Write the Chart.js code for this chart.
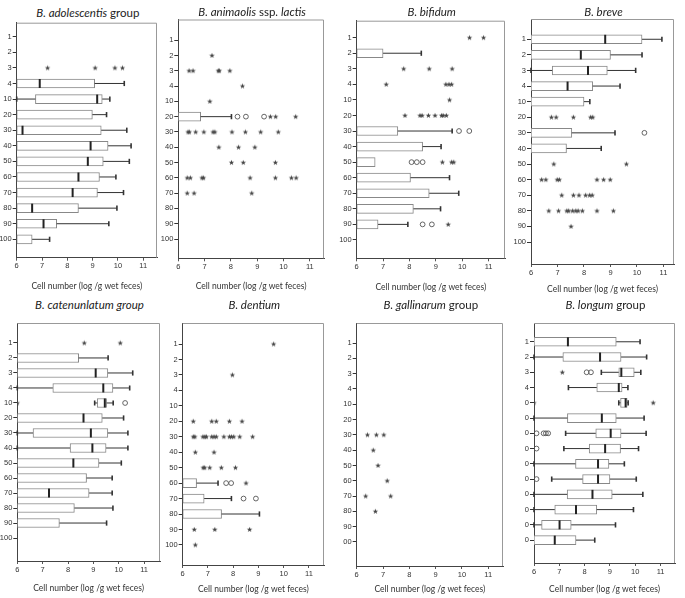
<!DOCTYPE html>
<html>
<head>
<meta charset="utf-8">
<script src="https://cdn.jsdelivr.net/npm/chart.js@4.4.1/dist/chart.umd.min.js"></script>
<style>
body { margin: 0; width: 685px; height: 598px; background: #fff; position: relative; overflow: hidden; font-family: Lato, sans-serif; }
canvas { position: absolute; }
.ttl { position: absolute; text-align: center; font-size: 11.5px; line-height: 14px; color: #222; white-space: nowrap; }
</style>
</head>
<body>
<script>
'use strict'

const ageLabels = ['1', '2', '3', '4', '10', '20', '30', '40', '50', '60', '70', '80', '90', '100'];
const xTickValues = [6, 7, 8, 9, 10, 11];
const axisTitle = 'Cell number (log /g wet feces)';

// box rows: [age, lower whisker, q1, median, q3, upper whisker]; median null = not visible
const adolescentisBoxes = [
    ['4', 6, 6, 6.91, 9.08, 10.25],
    ['10', 6, 6.74, 9.18, 9.38, 9.68],
    ['20', 6, 6, null, 8.99, 9.55],
    ['30', 6, 6, 6.23, 9.34, 10.35],
    ['40', 6, 6, 8.92, 9.61, 10.52],
    ['50', 6, 6, 8.81, 9.42, 10.45],
    ['60', 6, 6, 8.44, 9.27, 9.92],
    ['70', 6, 6, 8.21, 9.19, 10.22],
    ['80', 6, 6, 6.61, 8.44, 9.96],
    ['90', 6, 6, 7.06, 7.58, 9.64],
    ['100', 6, 6, null, 6.61, 7.3]
];
const adolescentisStars = [['3', 7.22], ['3', 9.1], ['3', 9.88], ['3', 10.18]];
const adolescentisCircles = [];

const lactisBoxes = [['20', 6, 6, null, 6.85, 8.02]];
const lactisStars = [
    ['2', 7.28],
    ['3', 6.41], ['3', 6.56], ['3', 7.52], ['3', 7.56], ['3', 7.96],
    ['4', 8.44],
    ['10', 7.2],
    ['20', 9.5], ['20', 9.7], ['20', 10.46],
    ['30', 6.37], ['30', 6.42], ['30', 6.66], ['30', 6.97], ['30', 7.32], ['30', 7.39], ['30', 8.04], ['30', 8.55], ['30', 9.13], ['30', 9.8],
    ['40', 7.54], ['40', 8.29], ['40', 8.91],
    ['50', 8.02], ['50', 8.47], ['50', 9.69],
    ['60', 6.34], ['60', 6.46], ['60', 6.9], ['60', 6.96], ['60', 8.73], ['60', 9.69], ['60', 10.3], ['60', 10.48],
    ['70', 6.34], ['70', 6.6], ['70', 8.79]
];
const lactisCircles = [['20', 8.25], ['20', 8.57], ['20', 9.26]];

const bifidumBoxes = [
    ['2', 6, 6, null, 7.0, 8.45],
    ['30', 6, 6, null, 7.56, 9.62],
    ['40', 6, 6, null, 8.5, 9.2],
    ['50', 6, 6, null, 6.7, 6.7],
    ['60', 6, 6, null, 8.04, 9.52],
    ['70', 6, 6, null, 8.75, 9.87],
    ['80', 6, 6, null, 8.15, 9.18],
    ['90', 6, 6, null, 6.81, 7.94]
];
const bifidumStars = [
    ['1', 10.28], ['1', 10.81],
    ['3', 7.78], ['3', 8.75], ['3', 9.62],
    ['4', 7.12], ['4', 9.38], ['4', 9.5], ['4', 9.6],
    ['10', 9.52],
    ['20', 7.83], ['20', 8.4], ['20', 8.48], ['20', 8.72], ['20', 8.97], ['20', 9.22], ['20', 9.28], ['20', 9.4],
    ['50', 9.25], ['50', 9.6], ['50', 9.68],
    ['90', 9.47]
];
const bifidumCircles = [['30', 9.88], ['30', 10.27], ['50', 8.08], ['50', 8.28], ['50', 8.5], ['90', 8.5], ['90', 8.85]];

const breveBoxes = [
    ['1', 6, 6, 8.8, 10.19, 10.94],
    ['2', 6, 6, 7.88, 9.0, 10.19],
    ['3', 6, 6.8, 8.15, 8.88, 9.95],
    ['4', 6, 6, 7.38, 8.33, 9.36],
    ['10', 6, 6, null, 8.0, 8.22],
    ['30', 6, 6, null, 7.54, 9.17],
    ['40', 6, 6, null, 7.34, 8.65]
];
const breveStars = [
    ['20', 6.77], ['20', 6.95], ['20', 7.6], ['20', 8.25], ['20', 8.33],
    ['50', 6.86], ['50', 9.6],
    ['60', 6.4], ['60', 6.56], ['60', 6.99], ['60', 7.07], ['60', 8.49], ['60', 8.74], ['60', 8.99],
    ['70', 7.16], ['70', 7.6], ['70', 7.81], ['70', 8.06], ['70', 8.21], ['70', 8.31],
    ['80', 6.67], ['80', 7.04], ['80', 7.35], ['80', 7.42], ['80', 7.57], ['80', 7.69], ['80', 7.78], ['80', 7.94], ['80', 8.49], ['80', 9.11],
    ['90', 7.51]
];
const breveCircles = [['30', 10.28]];

const catenulatumBoxes = [
    ['2', 6, 6, null, 8.42, 9.58],
    ['3', 6, 6, 9.09, 9.57, 10.55],
    ['4', 6, 7.4, 9.39, 9.77, 10.43],
    ['10', 9.05, 9.15, 9.45, 9.52, 9.78],
    ['20', 6, 6, 8.61, 9.35, 10.19],
    ['30', 6, 6.62, 8.9, 9.57, 10.36],
    ['40', 6, 8.08, 8.96, 9.5, 10.36],
    ['50', 6, 6, 8.21, 9.22, 10.1],
    ['60', 6, 6, null, 8.73, 9.74],
    ['70', 6, 6, 7.25, 8.83, 9.74],
    ['80', 6, 6, null, 8.25, 9.77],
    ['90', 6, 6, null, 7.66, 9.52]
];
const catenulatumStars = [['1', 8.64], ['1', 10.06], ['10', 6.0]];
const catenulatumCircles = [['10', 10.25]];

const dentiumBoxes = [
    ['60', 6, 6, null, 6.55, 7.4],
    ['70', 6, 6, null, 6.85, 7.93],
    ['80', 6, 6, null, 7.54, 9.04]
];
const dentiumStars = [
    ['1', 9.6],
    ['3', 7.97],
    ['20', 6.42], ['20', 7.15], ['20', 7.33], ['20', 7.85], ['20', 8.35],
    ['30', 6.42], ['30', 6.48], ['30', 6.8], ['30', 6.88], ['30', 6.94], ['30', 7.15], ['30', 7.24], ['30', 7.33],
    ['30', 7.63], ['30', 7.85], ['30', 7.93], ['30', 8.02], ['30', 8.26], ['30', 8.77],
    ['40', 6.5], ['40', 7.24],
    ['50', 6.81], ['50', 6.87], ['50', 7.07], ['50', 7.53], ['50', 8.09],
    ['60', 8.51],
    ['90', 6.46], ['90', 7.27], ['90', 8.65],
    ['100', 6.5]
];
const dentiumCircles = [['60', 7.72], ['60', 7.92], ['70', 8.41], ['70', 8.9]];

const gallinarumBoxes = [];
const gallinarumStars = [
    ['30', 6.41], ['30', 6.75], ['30', 7.03],
    ['40', 6.63], ['50', 6.81], ['60', 7.16],
    ['70', 6.34], ['70', 7.29], ['80', 6.71]
];
const gallinarumCircles = [];

const longumBoxes = [
    ['1', 6, 6, 7.34, 9.25, 10.19],
    ['2', 6, 7.14, 8.61, 9.44, 10.45],
    ['3', 8.66, 9.35, 9.45, 9.96, 10.22],
    ['4', 7.36, 8.48, 9.35, 9.48, 9.71],
    ['10', 9.35, 9.42, 9.62, 9.68, 9.72],
    ['20', 6, 7.32, 8.68, 9.25, 10.35],
    ['30', 7.25, 8.44, 9.03, 9.44, 10.43],
    ['40', 7.18, 8.18, 8.81, 9.42, 10.13],
    ['50', 6, 7.64, 8.53, 8.96, 9.57],
    ['60', 6.7, 7.92, 8.53, 9.0, 10.04],
    ['70', 6, 7.31, 8.31, 9.09, 10.3],
    ['80', 6, 6.82, 7.66, 8.48, 9.93],
    ['90', 6, 6.3, 7.01, 7.47, 9.22],
    ['100', 6, 6, 6.82, 7.66, 8.4]
];
const longumStars = [['3', 7.12], ['10', 6.0], ['10', 10.71]];
const longumCircles = [['3', 8.08], ['3', 8.25], ['30', 6.1], ['30', 6.38], ['30', 6.47], ['30', 6.56], ['40', 6.1], ['60', 6.1]];

// page geometry of each plot frame (px), y range in row units
const panels = [
    { title: '<i>B. adolescentis</i> group', boxes: adolescentisBoxes, stars: adolescentisStars, circles: adolescentisCircles,
      left: 16.7, right: 159, top: 22.7, bottom: 257.7, unit: 25.67, yTop: -0.9, yBottom: 14.18, canvasLeft: 0, titleY: 13, labelY: 286 },
    { title: '<i>B. animaolis</i> ssp. <i>lactis</i>', boxes: lactisBoxes, stars: lactisStars, circles: lactisCircles,
      left: 178.3, right: 326, top: 19.5, bottom: 258.3, unit: 26.67, yTop: -1.35, yBottom: 14.26, canvasLeft: 160, titleY: 12, labelY: 286 },
    { title: '<i>B. bifidum</i>', boxes: bifidumBoxes, stars: bifidumStars, circles: bifidumCircles,
      left: 356.7, right: 506.7, top: 20.7, bottom: 258.3, unit: 26.67, yTop: -1.09, yBottom: 14.18, canvasLeft: 338, titleY: 12, labelY: 287 },
    { title: '<i>B. breve</i>', boxes: breveBoxes, stars: breveStars, circles: breveCircles,
      left: 531, right: 676, top: 19, bottom: 264, unit: 26.87, yTop: -1.3, yBottom: 14.41, canvasLeft: 512, titleY: 12, labelY: 289 },
    { title: '<i>B. catenunlatum group</i>', boxes: catenulatumBoxes, stars: catenulatumStars, circles: catenulatumCircles,
      left: 17.3, right: 161.7, top: 323, bottom: 561, unit: 25.67, yTop: -1.33, yBottom: 14.53, canvasLeft: 0, titleY: 305, labelY: 588 },
    { title: '<i>B. dentium</i>', boxes: dentiumBoxes, stars: dentiumStars, circles: dentiumCircles,
      left: 182.7, right: 326, top: 323, bottom: 565, unit: 25.6, yTop: -1.36, yBottom: 14.3, canvasLeft: 163, titleY: 305, labelY: 589 },
    { title: '<i>B. gallinarum</i> group', boxes: gallinarumBoxes, stars: gallinarumStars, circles: gallinarumCircles,
      left: 356.7, right: 505, top: 323, bottom: 566, unit: 26.67, yTop: -1.31, yBottom: 14.57, canvasLeft: 343, titleY: 305, labelY: 589 },
    { title: '<i>B. longum</i> group', boxes: longumBoxes, stars: longumStars, circles: longumCircles,
      left: 534, right: 677, top: 323, bottom: 563, unit: 25.67, yTop: -1.23, yBottom: 14.5, canvasLeft: 525, titleY: 305, labelY: 589 }
];

const tickFont = { family: 'Liberation Sans', size: 7.5 };
const labelFont = { family: 'Lato', size: 8.5 };

function makeStar() {
    let c = document.createElement('canvas');
    c.width = 7;
    c.height = 7;
    let g = c.getContext('2d');
    g.fillStyle = '#444';
    g.beginPath();
    for (let i = 0; i < 10; i++) {
        let r = i % 2 ? 1.15 : 2.9;
        let a = -Math.PI / 2 + i * Math.PI / 5;
        let px = 3.5 + r * Math.cos(a);
        let py = 3.7 + r * Math.sin(a);
        if (i === 0) g.moveTo(px, py); else g.lineTo(px, py);
    }
    g.closePath();
    g.fill();
    return c;
}
const starImg = makeStar();

function rowOf(age) {
    return ageLabels.indexOf(age);
}

// whiskers, caps, medians and the top/right frame
function boxPlugin(p) {
    return {
        id: 'boxplot',
        afterDatasetsDraw(chart) {
            let ctx = chart.ctx;
            let a = chart.chartArea;
            let x = chart.scales.x;
            let y = chart.scales.y;
            ctx.save();
            ctx.strokeStyle = '#999';
            ctx.lineWidth = 1;
            ctx.beginPath();
            ctx.moveTo(a.left, a.top + 0.5);
            ctx.lineTo(a.right - 0.5, a.top + 0.5);
            ctx.lineTo(a.right - 0.5, a.bottom);
            ctx.stroke();
            p.boxes.forEach(b => {
                let cy = y.getPixelForValue(rowOf(b[0]));
                let lo = x.getPixelForValue(b[1]);
                let q1 = x.getPixelForValue(b[2]);
                let q3 = x.getPixelForValue(b[4]);
                let hi = x.getPixelForValue(b[5]);
                ctx.strokeStyle = '#333';
                ctx.lineWidth = 1;
                ctx.beginPath();
                if (b[1] < b[2]) { ctx.moveTo(lo, cy); ctx.lineTo(q1, cy); }
                if (b[5] > b[4]) { ctx.moveTo(q3, cy); ctx.lineTo(hi, cy); }
                ctx.stroke();
                ctx.lineWidth = 1.6;
                ctx.beginPath();
                if (b[1] < b[2]) { ctx.moveTo(lo, cy - 2.6); ctx.lineTo(lo, cy + 2.6); }
                if (b[5] > b[4]) { ctx.moveTo(hi, cy - 2.6); ctx.lineTo(hi, cy + 2.6); }
                ctx.stroke();
                if (b[3] !== null) {
                    let m = x.getPixelForValue(b[3]);
                    ctx.strokeStyle = '#222';
                    ctx.lineWidth = 2;
                    ctx.beginPath();
                    ctx.moveTo(m, cy - 4.5);
                    ctx.lineTo(m, cy + 4.5);
                    ctx.stroke();
                }
            });
            ctx.restore();
        }
    };
}

function drawPanel(p) {
    let ttl = document.createElement('div');
    ttl.className = 'ttl';
    ttl.innerHTML = p.title;
    ttl.style.left = (p.left - 20) + 'px';
    ttl.style.width = (p.right - p.left + 40) + 'px';
    ttl.style.top = (p.titleY - 7) + 'px';
    document.body.appendChild(ttl);

    let ct = Math.floor(p.top) - 8;
    let W = Math.ceil(p.right) + 3 - p.canvasLeft;
    let H = Math.round(p.labelY + 5) - ct;
    let canvas = document.createElement('canvas');
    canvas.width = W;
    canvas.height = H;
    canvas.style.left = p.canvasLeft + 'px';
    canvas.style.top = ct + 'px';
    document.body.appendChild(canvas);

    new Chart(canvas, {
        type: 'bar',
        data: {
            datasets: [
                {
                    type: 'bar',
                    data: p.boxes.map(b => ({ y: rowOf(b[0]), x: [b[2], b[4]] })),
                    backgroundColor: '#fff',
                    borderColor: '#888',
                    borderWidth: 1,
                    borderSkipped: false,
                    barThickness: 9
                },
                {
                    type: 'scatter',
                    data: p.circles.map(c => ({ y: rowOf(c[0]), x: c[1] })),
                    pointStyle: 'circle',
                    pointRadius: 2.4,
                    borderWidth: 0.9,
                    borderColor: '#555',
                    backgroundColor: 'rgba(255,255,255,0)'
                },
                {
                    type: 'scatter',
                    data: p.stars.map(s => ({ y: rowOf(s[0]), x: s[1] })),
                    pointStyle: starImg,
                    pointRadius: 3,
                    clip: { left: 0, top: 8, right: 8, bottom: 8 }
                }
            ]
        },
        options: {
            indexAxis: 'y',
            responsive: false,
            animation: false,
            events: [],
            layout: { padding: { top: p.top - ct, right: W - (p.right - p.canvasLeft), left: 0, bottom: 0 } },
            plugins: { legend: { display: false }, tooltip: { enabled: false } },
            scales: {
                x: {
                    type: 'linear',
                    min: 6,
                    max: 6 + (p.right - p.left) / p.unit,
                    offset: false,
                    beginAtZero: false,
                    afterBuildTicks: s => { s.ticks = xTickValues.map(v => ({ value: v })) },
                    afterFit: s => { s.height = H - (p.bottom - ct) },
                    grid: { offset: false, drawOnChartArea: false, tickLength: 3, color: '#555' },
                    border: { color: '#444' },
                    ticks: { padding: 1, font: tickFont, color: '#333', maxRotation: 0, autoSkip: false },
                    title: { display: true, text: axisTitle, padding: 0, font: labelFont, color: '#333' }
                },
                y: {
                    type: 'linear',
                    reverse: true,
                    min: p.yTop,
                    max: p.yBottom,
                    offset: false,
                    beginAtZero: false,
                    afterBuildTicks: s => { s.ticks = ageLabels.map((a, i) => ({ value: i })) },
                    afterFit: s => { s.width = p.left - p.canvasLeft },
                    grid: { offset: false, drawOnChartArea: false, tickLength: 4, color: '#333' },
                    border: { color: '#444' },
                    ticks: { padding: 1, font: tickFont, color: '#333', autoSkip: false, callback: v => ageLabels[v] }
                }
            }
        },
        plugins: [boxPlugin(p)]
    });
}

panels.forEach(drawPanel);
</script>
</body>
</html>
